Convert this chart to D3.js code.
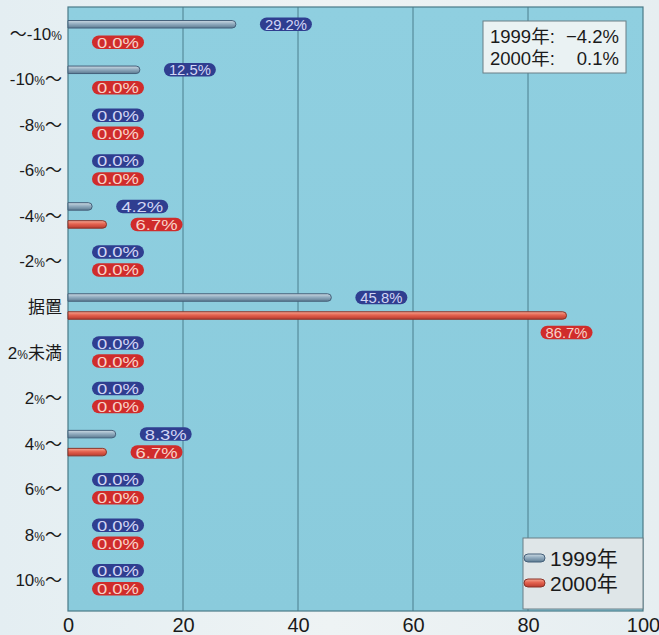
<!DOCTYPE html>
<html>
<head>
<meta charset="utf-8">
<script src="https://cdn.jsdelivr.net/npm/d3@7/dist/d3.min.js"></script>
<style>
  html, body { margin: 0; padding: 0; background: #eaf1f3; }
  svg { display: block; }
</style>
</head>
<body>
<svg id="chart" width="659" height="635"></svg>
<script>
// Distribution of revision rates (share of respondents, %)
const categories = ["～-10%", "-10%～", "-8%～", "-6%～", "-4%～", "-2%～", "据置", "2%未満", "2%～", "4%～", "6%～", "8%～", "10%～"];
const values1999 = [29.2, 12.5, 0, 0, 4.2, 0, 45.8, 0, 0, 8.3, 0, 0, 0];
const values2000 = [0, 0, 0, 0, 6.7, 0, 86.7, 0, 0, 6.7, 0, 0, 0];
const seriesNames = ["1999年", "2000年"];
const xTicks = [0, 20, 40, 60, 80, 100];
const averageLabels = ["1999年:", "2000年:"];
const averageValues = ["−4.2%", "0.1%"];

const LATIN = "'Liberation Sans', Arial, 'Noto Sans CJK JP', sans-serif";
const CJK = "'Noto Sans CJK JP', 'Liberation Sans', sans-serif";

const svg = d3.select("#chart");
const plot = { left: 68, right: 643, top: 7, bottom: 611 };

const x = d3.scaleLinear().domain([0, 100]).range([plot.left, plot.right]);
const y = d3.scaleBand().domain(categories).range([11, 603]).padding(0);
const sub = d3.scaleOrdinal().domain(seriesNames).range([-9.5, 8.5]);

const defs = svg.append("defs");
function grad(id, stops, horizontal) {
  const g = defs.append("linearGradient").attr("id", id)
    .attr("x1", 0).attr("x2", horizontal ? 1 : 0).attr("y1", 0).attr("y2", horizontal ? 0 : 1);
  stops.forEach(([o, c]) => g.append("stop").attr("offset", o).attr("stop-color", c));
}
grad("g1999", [[0, "#cddbe4"], [0.45, "#93adc0"], [1, "#5d7b92"]]);
grad("g2000", [[0, "#f6a995"], [0.45, "#e4624f"], [1, "#b93a2e"]]);
grad("bgGrad", [[0, "#8fcfe0"], [1, "#8acbdc"]]);
grad("pageGrad", [[0, "#e4eef2"], [0.5, "#eef3f4"], [1, "#e6eef1"]], true);

// page background
svg.append("rect").attr("width", 659).attr("height", 635).attr("fill", "url(#pageGrad)");

// plot background
svg.append("rect")
  .attr("x", plot.left).attr("y", plot.top)
  .attr("width", plot.right - plot.left).attr("height", plot.bottom - plot.top)
  .attr("fill", "url(#bgGrad)");

// vertical grid lines
svg.append("g").selectAll("line")
  .data(xTicks.filter(d => d > 0 && d < 100))
  .join("line")
  .attr("x1", d => x(d)).attr("x2", d => x(d))
  .attr("y1", plot.top).attr("y2", plot.bottom)
  .attr("stroke", "#3a6b7a").attr("stroke-width", 0.8);

// plot frame
svg.append("rect")
  .attr("x", plot.left).attr("y", plot.top)
  .attr("width", plot.right - plot.left).attr("height", plot.bottom - plot.top)
  .attr("fill", "none").attr("stroke", "#4a7a88").attr("stroke-width", 1.2);

// x axis labels
const xAxis = d3.axisBottom(x).tickValues(xTicks).tickSize(0).tickPadding(0);
const gx = svg.append("g").attr("transform", `translate(0,${plot.bottom})`).call(xAxis);
gx.select(".domain").remove();
gx.selectAll("text")
  .attr("y", 21).attr("dy", 0)
  .attr("font-family", LATIN)
  .attr("font-size", 20).attr("fill", "#1a1a1a");

// category labels with a smaller percent sign
const catG = svg.append("g");
categories.forEach(c => {
  const t = catG.append("text")
    .attr("x", 62).attr("y", y(c) + y.bandwidth() / 2 + 6)
    .attr("text-anchor", "end")
    .attr("font-family", LATIN)
    .attr("font-size", 17).attr("fill", "#1a1a1a");
  c.split(/(%|[～\u4e00-\u9fff]+)/).forEach(part => {
    if (!part) return;
    const ts = t.append("tspan").text(part);
    if (part === "%") ts.attr("font-size", 12);
    else if (/[～\u4e00-\u9fff]/.test(part)) ts.attr("font-family", CJK).attr("font-size", 17);
  });
});

// bars
const rows = [];
categories.forEach((c, i) => {
  rows.push({ cat: c, series: "1999年", value: values1999[i] });
  rows.push({ cat: c, series: "2000年", value: values2000[i] });
});
const barH = 7.5;
function barPath(d) {
  const cy = y(d.cat) + y.bandwidth() / 2 + sub(d.series);
  const x0 = x(0), x1 = x(d.value), r = barH / 2;
  const top = cy - r, bot = cy + r;
  const xe = Math.max(x0, x1 - r);
  return `M${x0},${top}H${xe}A${r},${r} 0 0 1 ${xe},${bot}H${x0}Z`;
}
svg.append("g").selectAll("path")
  .data(rows.filter(d => d.value > 0))
  .join("path")
  .attr("d", barPath)
  .attr("fill", d => d.series === "1999年" ? "url(#g1999)" : "url(#g2000)")
  .attr("stroke", d => d.series === "1999年" ? "#45607a" : "#8a3328")
  .attr("stroke-width", 1);

// value pills
const pillW = 52, pillH = 13.5, gap = 24;
const pillFill = { "1999年": "#2f3e90", "2000年": "#d02c2b" };
const pillText = { "1999年": "#d2d5f5", "2000年": "#f8d2c8" };
const labG = svg.append("g");
rows.forEach(d => {
  const cy = y(d.cat) + y.bandwidth() / 2 + sub(d.series);
  let px = x(d.value) + gap, py = cy;
  if (px + pillW > plot.right - 20) {
    px = x(d.value) - pillW / 2;
    py = cy + 17;
  }
  const g = labG.append("g").attr("transform", `translate(${px},${py})`);
  g.append("rect")
    .attr("x", 0).attr("y", -pillH / 2).attr("width", pillW).attr("height", pillH)
    .attr("rx", pillH / 2).attr("fill", pillFill[d.series]);
  g.append("text")
    .attr("x", pillW / 2).attr("y", 5.5)
    .attr("text-anchor", "middle")
    .attr("font-family", LATIN)
    .attr("font-size", 15).attr("fill", pillText[d.series])
    .attr("textLength", 42).attr("lengthAdjust", "spacingAndGlyphs")
    .text(d.value.toFixed(1) + "%");
});

// averages box
const ab = svg.append("g").attr("transform", "translate(483,21)");
ab.append("rect").attr("width", 143).attr("height", 52)
  .attr("fill", "#eaf2f3").attr("stroke", "#6b7f86").attr("stroke-width", 1);
averageLabels.forEach((s, i) => {
  ab.append("text")
    .attr("x", 7).attr("y", 22 + i * 22)
    .attr("font-family", LATIN)
    .attr("font-size", 18.5).attr("fill", "#1a1a1a")
    .text(s);
  ab.append("text")
    .attr("x", 136).attr("y", 22 + i * 22)
    .attr("text-anchor", "end")
    .attr("font-family", LATIN)
    .attr("font-size", 18.5).attr("fill", "#1a1a1a")
    .text(averageValues[i]);
});

// legend
const lg = svg.append("g").attr("transform", "translate(523,538)");
lg.append("rect").attr("width", 120).attr("height", 71)
  .attr("fill", "#dfe6e8").attr("stroke", "#6b7f86").attr("stroke-width", 1);
seriesNames.forEach((s, i) => {
  const cy = 20 + i * 25;
  const r = 4;
  lg.append("path")
    .attr("d", `M5,${cy - r}H${22 - r}A${r},${r} 0 0 1 ${22 - r},${cy + r}H5A${r},${r} 0 0 1 5,${cy - r}Z`)
    .attr("fill", i === 0 ? "url(#g1999)" : "url(#g2000)")
    .attr("stroke", i === 0 ? "#45607a" : "#8a3328").attr("stroke-width", 1);
  lg.append("text")
    .attr("x", 27).attr("y", cy + 8)
    .attr("font-family", LATIN)
    .attr("font-size", 21).attr("fill", "#1a1a1a")
    .text(s);
});
</script>
</body>
</html>
